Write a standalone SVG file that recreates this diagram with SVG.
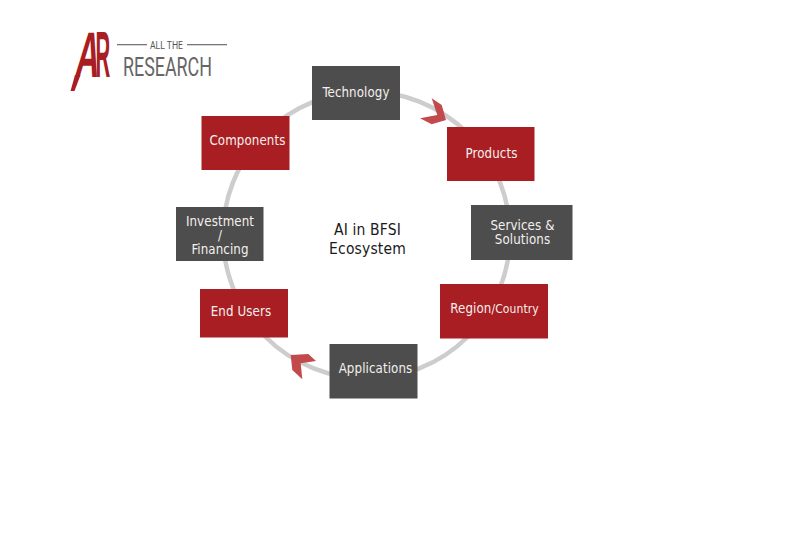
<svg xmlns="http://www.w3.org/2000/svg" width="800" height="533" viewBox="0 0 800 533">
<style>
.dark{fill:#4d4d4d}
.red{fill:#a81e22}
.lbl{font-family:"DejaVu Sans",sans-serif;font-stretch:condensed;font-size:13.200px;letter-spacing:.1px;fill:#f4f0ee;text-anchor:middle}
.center{font-family:"DejaVu Sans",sans-serif;font-stretch:condensed;font-size:15.500px;letter-spacing:.15px;fill:#1a1a1a;text-anchor:middle}
.arr{fill:#c24a4d}
.ar{font-family:"Liberation Sans",sans-serif;font-weight:700;font-size:60px;fill:#a81e22}
</style>
<rect width="800" height="533" fill="#fff"/>
<g id="logo">
<text class="ar" transform="translate(74 77) skewX(-7) scale(.55 1.07)">A</text>
<polygon points="75,75 80.500,75 74.500,91 70.500,91" fill="#a81e22"/>
<text class="ar" transform="translate(95.500 77) scale(.34 1.07)">R</text>
<rect x="117" y="44" width="30" height="1.300" fill="#777"/>
<rect x="187" y="44" width="40" height="1.300" fill="#777"/>
<text x="166.500" y="48.500" font-family="Roboto,sans-serif" font-size="11.500" fill="#555" text-anchor="middle" textLength="33" lengthAdjust="spacingAndGlyphs">ALL THE</text>
<text x="167.500" y="76" font-family="Roboto,sans-serif" font-size="26" fill="#666" text-anchor="middle" textLength="89" lengthAdjust="spacingAndGlyphs">RESEARCH</text>
</g>
<g id="connectors">
<circle cx="366.500" cy="235" r="143.500" fill="none" stroke="#cdcdcd" stroke-width="4.500"/>
<polygon class="arr" points="431.700,98.300 441.700,105 446,120 431.700,124.300 420,118.300 437.300,115"/>
<polygon class="arr" points="290.700,355 308.300,354 316,361 300.700,363.300 302.300,379.300 292.300,370"/>
</g>
<g id="technology"><rect class="dark" x="312" y="66" width="88" height="54"/><text class="lbl" x="356" y="97">Technology</text></g>
<g id="products"><rect class="red" x="447" y="127" width="87.500" height="54"/><text class="lbl" x="491.500" y="158">Products</text></g>
<g id="services"><rect class="dark" x="471" y="205" width="101.500" height="55"/><text class="lbl" x="522.500" y="230">Services &amp;<tspan x="522.500" dy="14">Solutions</tspan></text></g>
<g id="region"><rect class="red" x="440" y="284" width="108" height="54.500"/><text class="lbl" x="494.500" y="313">Region<tspan font-size="12">/Country</tspan></text></g>
<g id="applications"><rect class="dark" x="329.500" y="344" width="88" height="54.500"/><text class="lbl" x="375.500" y="373">Applications</text></g>
<g id="end-users"><rect class="red" x="200" y="289" width="88" height="48.500"/><text class="lbl" x="241" y="316">End Users</text></g>
<g id="investment"><rect class="dark" x="176" y="207" width="87.500" height="54"/><text class="lbl" x="220" y="226">Investment<tspan x="220" dy="14">/</tspan><tspan x="220" dy="14">Financing</tspan></text></g>
<g id="components"><rect class="red" x="201.500" y="116" width="88" height="54"/><text class="lbl" x="247.500" y="145">Components</text></g>
<g id="center-label"><text class="center" x="367.500" y="235">AI in BFSI<tspan x="367.500" dy="19">Ecosystem</tspan></text></g>
</svg>
